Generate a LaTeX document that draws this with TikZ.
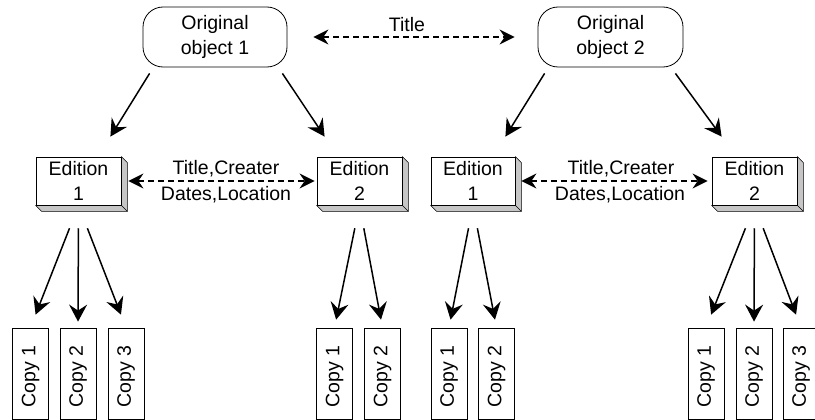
\documentclass[tikz,border=0pt]{standalone}
\usepackage{fontspec}
\setmainfont{Liberation Sans}
\usetikzlibrary{arrows.meta,calc,backgrounds}
\begin{document}
\begin{tikzpicture}[x=1pt,y=-1pt,
  every node/.style={font=\fontsize{19.5}{25}\selectfont},
  orig/.style={draw, rounded corners=20pt, minimum width=144pt, minimum height=60pt, align=center, inner sep=0pt, line width=0.8pt},
  edbox/.style={draw, fill=white, minimum width=85pt, minimum height=48pt, align=center, inner sep=0pt, line width=0.8pt},
  copybox/.style={draw, rotate=90, minimum width=91pt, minimum height=36pt, inner sep=0pt, line width=0.8pt},
  arr/.style={line width=1.5pt, -{Stealth[length=17pt,width=18pt,inset=6pt]}},
  darr/.style={line width=1.3pt, dash pattern=on 6pt off 4pt, {Stealth[length=15pt,width=15pt,inset=5pt]}-{Stealth[length=15pt,width=15pt,inset=5pt]}},
  lbl/.style={anchor=base, inner sep=0pt},
  shade3d/.style={fill=gray!45, draw=black, line width=0.6pt, line join=round}
]
\useasboundingbox (0,0) rectangle (815,420);

% original objects
\node[orig] (o1) at (215,37) {Original\\object 1};
\node[orig, minimum width=145pt] (o2) at (610.5,37) {Original\\object 2};

% editions
\node[edbox] (e1) at (78.5,181) {Edition\\1};
\node[edbox] (e2) at (359.5,181) {Edition\\2};
\node[edbox, minimum width=84pt] (e3) at (473,181) {Edition\\1};
\node[edbox] (e4) at (754.5,181) {Edition\\2};

\begin{scope}[on background layer]
\foreach \e in {e1,e2,e3,e4}{
  \filldraw[shade3d] (\e.north east) -- ++(6pt,-6pt) -- ([xshift=6pt,yshift=-6pt]\e.south east)
     -- ([xshift=6pt,yshift=-6pt]\e.south west) -- (\e.south west) -- (\e.south east) -- cycle;
  \draw[line width=0.6pt] (\e.south east) -- ++(6pt,-6pt);
}
\end{scope}

% copies
\node[copybox] (c11) at (30.5,373.5) {Copy 1\hspace*{6pt}};
\node[copybox] (c12) at (78,373.5) {Copy 2\hspace*{6pt}};
\node[copybox] (c13) at (126,373.5) {Copy 3\hspace*{6pt}};
\node[copybox] (c21) at (334.5,373.5) {Copy 1\hspace*{6pt}};
\node[copybox] (c22) at (382.5,373.5) {Copy 2\hspace*{6pt}};
\node[copybox] (c31) at (449,373.5) {Copy 1\hspace*{6pt}};
\node[copybox] (c32) at (496.5,373.5) {Copy 2\hspace*{6pt}};
\node[copybox] (c41) at (706,373.5) {Copy 1\hspace*{6pt}};
\node[copybox] (c42) at (754,373.5) {Copy 2\hspace*{6pt}};
\node[copybox] (c43) at (801,373.5) {Copy 3\hspace*{6pt}};

% original -> edition arrows
\draw[arr] ([xshift=7pt,yshift=-6pt]o1.south west) -- ([xshift=-11pt,yshift=20pt]e1.north east);
\draw[arr] ([xshift=-5pt,yshift=-6pt]o1.south east) -- ([xshift=8pt,yshift=20pt]e2.north west);
\draw[arr] ([xshift=7pt,yshift=-6pt]o2.south west) -- ([xshift=-10pt,yshift=20pt]e3.north east);
\draw[arr] ([xshift=-8pt,yshift=-6pt]o2.south east) -- ([xshift=10pt,yshift=20pt]e4.north west);

% dashed relations
\draw[darr] ([xshift=26pt]o1.east) -- ([xshift=-23pt]o2.west);
\node[lbl] (t0) at (407,32) {Title};
\draw[darr] ([xshift=7pt]e1.east) -- ([xshift=-2pt]e2.west);
\node[lbl] (t1) at (226,175) {Title,Creater};
\node[lbl] (t2) at (226,200) {Dates,Location};
\draw[darr] ([xshift=6pt]e3.east) -- ([xshift=-4pt]e4.west);
\node[lbl] (t3) at (621,175) {Title,Creater};
\node[lbl] (t4) at (620,200) {Dates,Location};

% edition -> copy arrows
\draw[arr] ($(e1.south)!0.187!(c11.east)$) -- ($(e1.south)!0.894!(c11.east)$);
\draw[arr] ($(e1.south)!0.187!(c12.east)$) -- ($(e1.south)!0.951!(c12.east)$);
\draw[arr] ($(e1.south)!0.187!(c13.east)$) -- ($(e1.south)!0.894!(c13.east)$);
\draw[arr] ($(e2.south)!0.187!(c21.east)$) -- ($(e2.south)!0.935!(c21.east)$);
\draw[arr] ($(e2.south)!0.187!(c22.east)$) -- ($(e2.south)!0.935!(c22.east)$);
\draw[arr] ($(e3.south)!0.187!(c31.east)$) -- ($(e3.south)!0.935!(c31.east)$);
\draw[arr] ($(e3.south)!0.187!(c32.east)$) -- ($(e3.south)!0.935!(c32.east)$);
\draw[arr] ($(e4.south)!0.187!(c41.east)$) -- ($(e4.south)!0.894!(c41.east)$);
\draw[arr] ($(e4.south)!0.187!(c42.east)$) -- ($(e4.south)!0.951!(c42.east)$);
\draw[arr] ($(e4.south)!0.187!(c43.east)$) -- ($(e4.south)!0.894!(c43.east)$);
\end{tikzpicture}
\end{document}
